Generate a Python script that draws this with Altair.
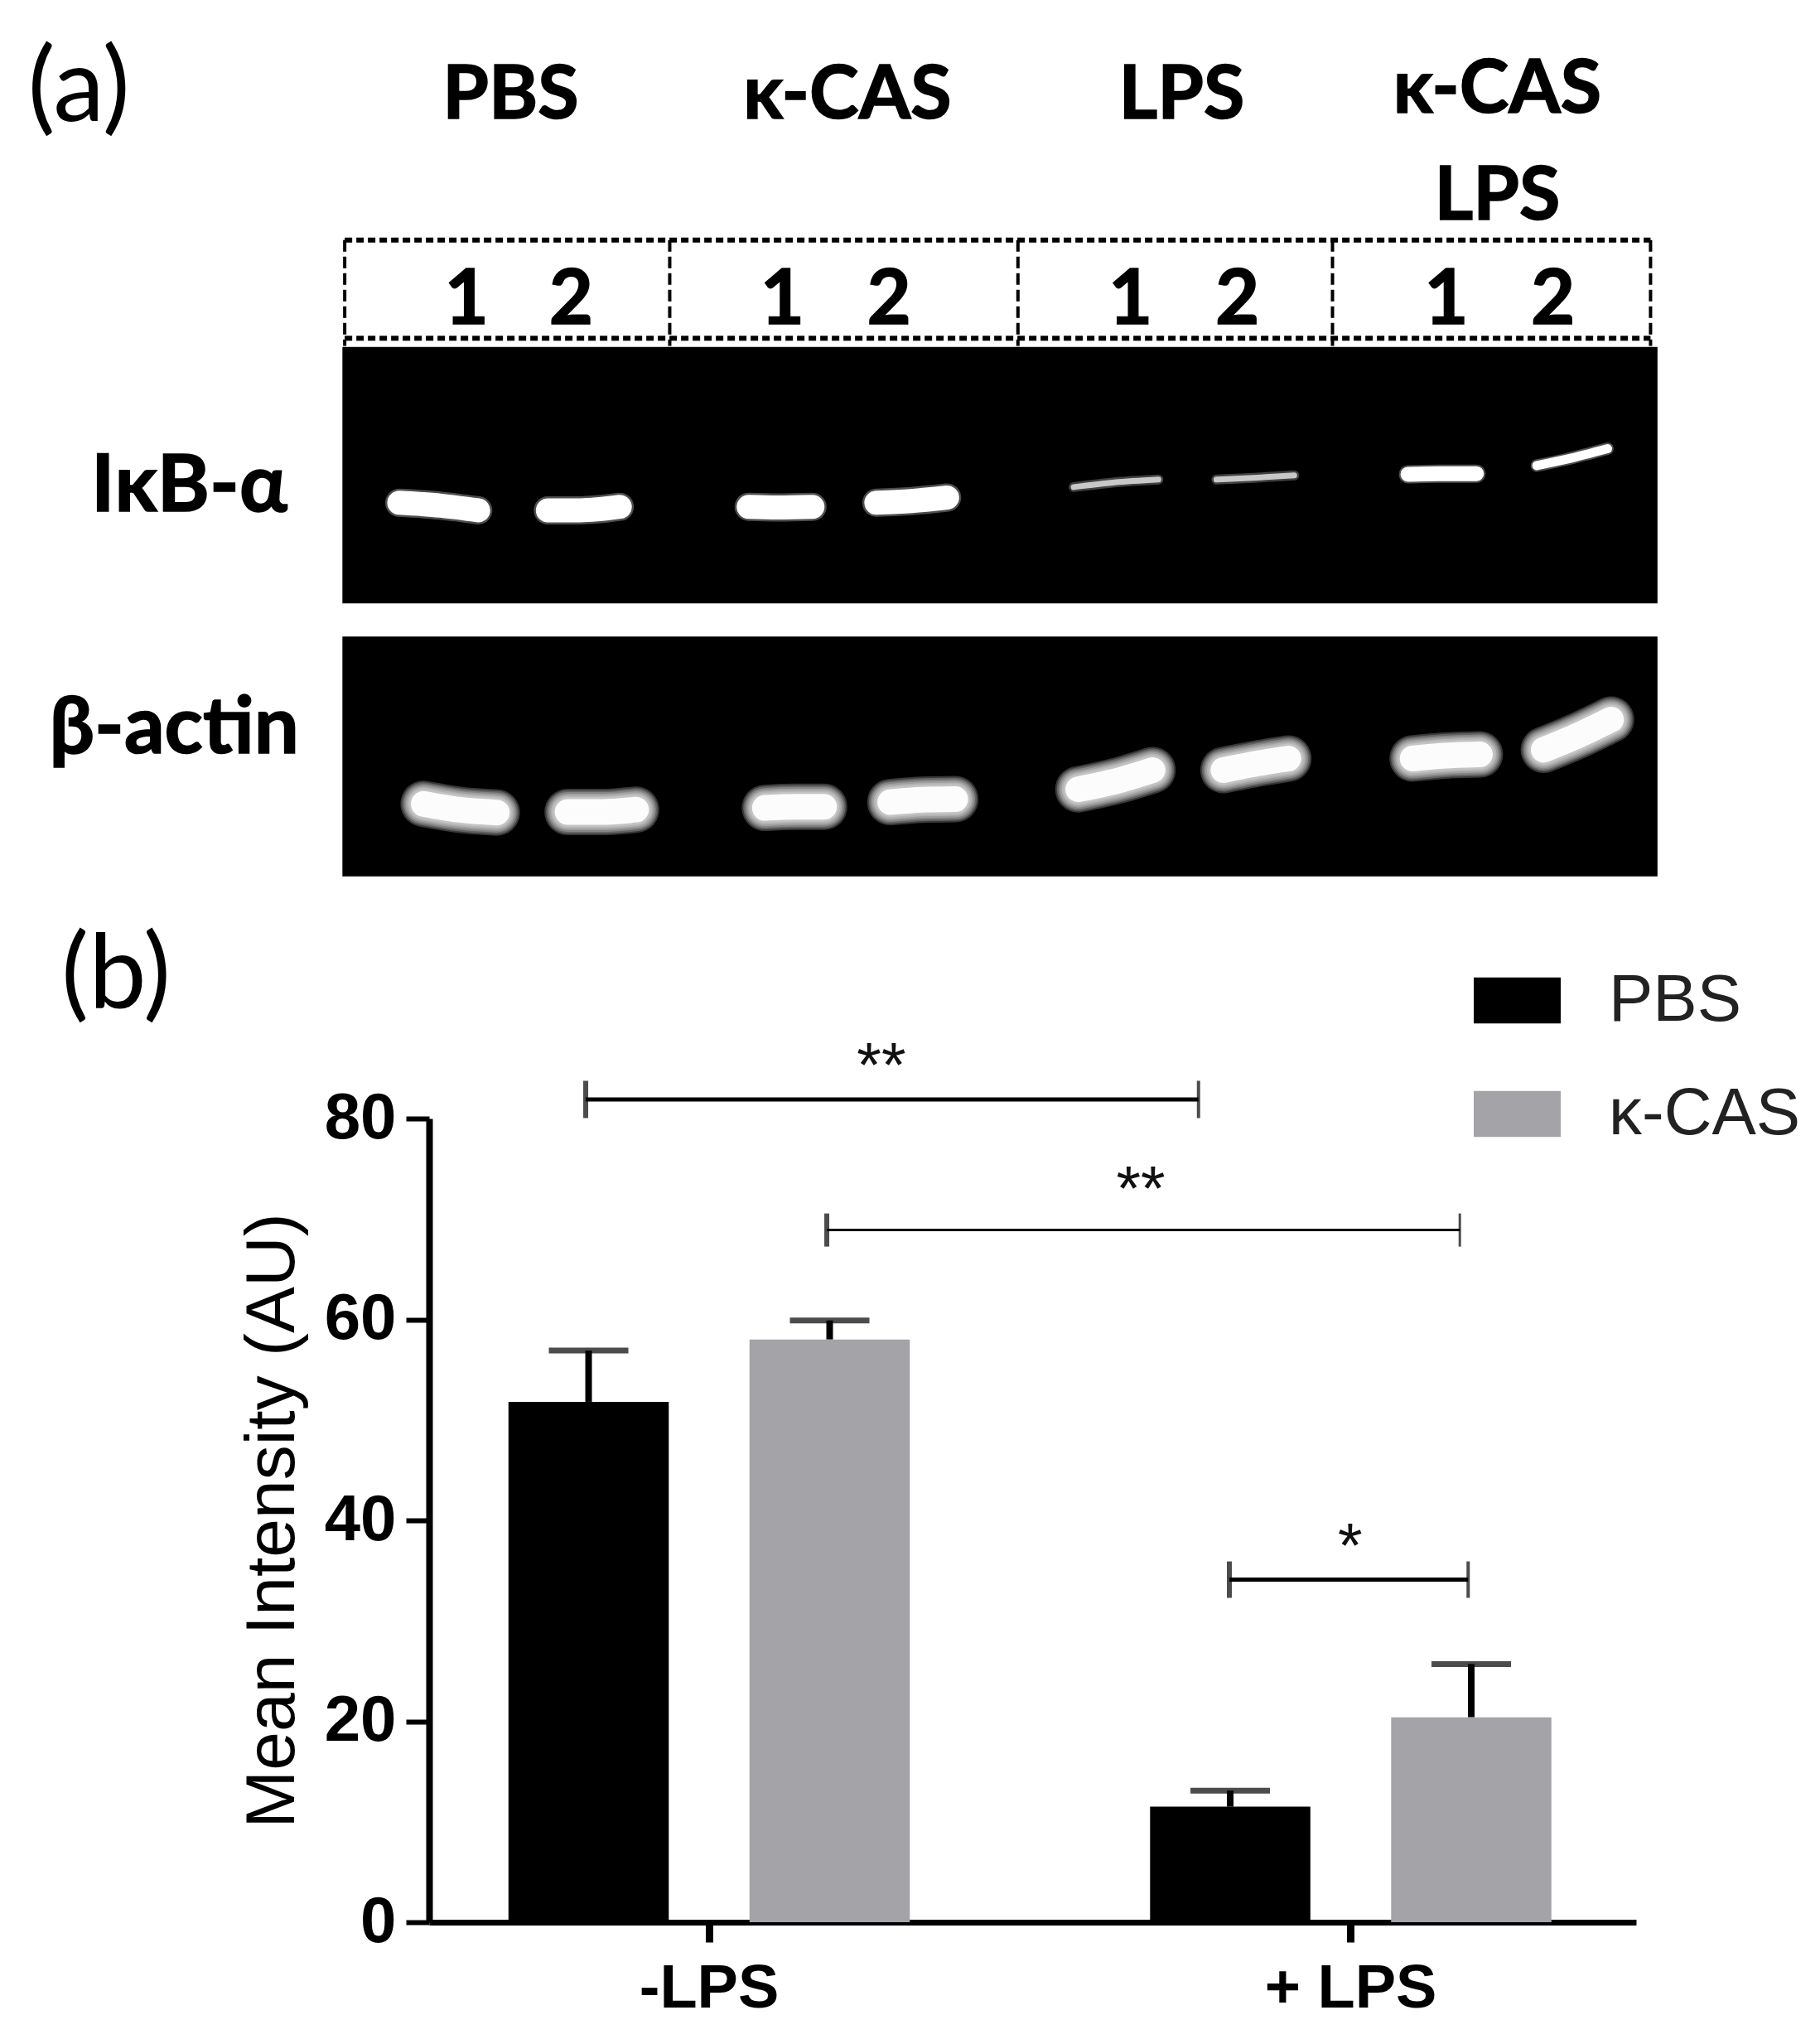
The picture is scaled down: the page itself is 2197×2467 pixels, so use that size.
import altair as alt
import pandas as pd

# ---- panel (b) values
GROUPS = ["-LPS", "+ LPS"]
TREATMENTS = ["PBS", "κ-CAS"]
MEANS_PBS = [51.8, 11.5]
MEANS_CAS = [58.0, 20.4]
TOPS_PBS = [56.9, 13.1]
TOPS_CAS = [59.9, 25.7]

# significance brackets: x in group units (-LPS tick = 0, +LPS tick = 1), y in AU
BR1 = [-0.1935, 0.761, 81.9]
BR2 = [0.182, 1.168, 68.9]
BR3 = [0.809, 1.181, 34.1]
STARS_TEXT = ["**", "**", "*"]
STARS_X = [0.267, 0.671, 0.997]
STARS_Y = [83.2, 70.9, 35.4]

# ---- panel (a) gel read-offs, in gel units
BLOT1 = [295, 1428, 597, 1038]
BLOT2 = [295, 1428, 1095, 1508]

IKB_STRONG = [
    [344, 865, 380, 870, 412, 878],
    [472, 878, 500, 878, 534, 872],
    [645, 872, 670, 873, 700, 872],
    [755, 865, 785, 862, 816, 856],
]
IKB_MID = [[1213, 816, 1240, 815, 1272, 815]]
IKB_THIN = [[1324, 801, 1350, 790, 1385, 772]]
IKB_FAINT = [
    [925, 838, 960, 830, 998, 825],
    [1048, 825, 1080, 822, 1115, 818],
]
ACTIN = [
    [365, 1383, 395, 1393, 428, 1398],
    [489, 1397, 518, 1397, 548, 1393],
    [659, 1390, 685, 1388, 710, 1388],
    [767, 1380, 795, 1376, 823, 1375],
    [929, 1358, 965, 1342, 993, 1325],
    [1054, 1325, 1085, 1313, 1110, 1305],
    [1217, 1305, 1245, 1300, 1275, 1298],
    [1330, 1290, 1360, 1265, 1388, 1238],
]

BOX_X = [297, 577, 877, 1148, 1422]
BOX_TOP = 413
BOX_BOTTOM = 582
BOX_END = 595

HEAD_TEXT = ["PBS", "κ-CAS", "LPS", "κ-CAS", "LPS"]
HEAD_X = [440, 730, 1018, 1290, 1290]
HEAD_Y = [166, 166, 166, 156, 339]
LANE_TEXT = ["1", "2", "1", "2", "1", "2", "1", "2"]
LANE_X = [402, 492, 674, 766, 974, 1066, 1246, 1338]
LANE_Y = [518] * 8
PROBE_TEXT = ["IκB-α", "β-actin"]
PROBE_X = [163, 150]
PROBE_Y = [838, 1255]
PANEL_TEXT = ["(a)", "(b)"]
PANEL_X = [68, 100]
PANEL_Y = [155, 1681]

# ---- geometry of the plot area in the page
LEFT, RIGHT, TOP80, BOTTOM0 = 518, 1975, 1350, 2320
KX, KY = 0.7137, 1.4255
GEL_X = alt.Scale(domain=[LEFT * KX, RIGHT * KX], nice=False, zero=False)
GEL_Y = alt.Scale(domain=[BOTTOM0 * KY, TOP80 * KY], nice=False, zero=False)
AU = alt.Scale(domain=[0, 80], nice=False, zero=False)
UNITS = alt.Scale(domain=[(LEFT - 857) / 775, (RIGHT - 857) / 775], nice=False, zero=False)
GROUP_SCALE = alt.Scale(domain=GROUPS, paddingInner=0.2486, paddingOuter=0.0649, align=0.468)
OFFSET_SCALE = alt.Scale(domain=TREATMENTS, paddingInner=0.335, paddingOuter=0.1675)
COLORS = alt.Scale(domain=TREATMENTS, range=["#000000", "#a4a3a7"])
NOAX = None

layers = []


def gx(f="x"):
    return alt.X(f"{f}:Q", scale=GEL_X, axis=NOAX)


def gy(f="y"):
    return alt.Y(f"{f}:Q", scale=GEL_Y, axis=NOAX)


def gel_rect(box):
    df = pd.DataFrame([dict(x=box[0], x2=box[1], y=box[2], y2=box[3])])
    return alt.Chart(df).mark_rect(color="#000000").encode(
        x=gx(), x2="x2:Q", y=gy(), y2="y2:Q")


def gel_bands(bands, width, color="#ffffff", opacity=1.0):
    rows = []
    for i, b in enumerate(bands):
        for j in range(0, 6, 2):
            rows.append(dict(b=i, o=j, x=b[j], y=b[j + 1]))
    return alt.Chart(pd.DataFrame(rows)).mark_line(
        strokeWidth=width, strokeCap="round", color=color, opacity=opacity,
        interpolate="monotone").encode(
        x=gx(), y=gy(), detail="b:N", order="o:Q")


def gel_text(texts, xs, ys, size, weight="bold", font="Lato", heavy=1.6):
    df = pd.DataFrame(dict(t=texts, x=xs, y=ys))
    return alt.Chart(df).mark_text(
        fontSize=size, fontWeight=weight, font=font, color="#000000",
        stroke="#000000", strokeWidth=heavy,
        align="center", baseline="middle").encode(x=gx(), y=gy(), text="t:N")


def gel_dash(rows, width, dash):
    return alt.Chart(pd.DataFrame(rows)).mark_rule(
        color="#000000", strokeWidth=width, strokeDash=dash).encode(
        x=gx(), x2="x2:Q", y=gy(), y2="y2:Q")


layers += [gel_rect(BLOT1), gel_rect(BLOT2)]
layers += [
    gel_bands(IKB_STRONG, 34, "#ffffff", 0.3),
    gel_bands(IKB_STRONG, 29),
    gel_bands(IKB_MID, 22, "#ffffff", 0.3),
    gel_bands(IKB_MID, 18),
    gel_bands(IKB_THIN, 15, "#ffffff", 0.3),
    gel_bands(IKB_THIN, 11),
    gel_bands(IKB_FAINT, 12, "#ffffff", 0.25),
    gel_bands(IKB_FAINT, 7, "#c8c8c8"),
]
for w in (56, 52, 48, 44, 40, 36):
    layers.append(gel_bands(ACTIN, w, "#ffffff", 0.22))
layers.append(gel_bands(ACTIN, 31, "#ffffff", 0.95))
layers += [
    gel_dash([dict(x=BOX_X[0], x2=BOX_X[-1], y=v, y2=v) for v in (BOX_TOP, BOX_BOTTOM)], 6, [9, 5]),
    gel_dash([dict(x=v, x2=v, y=BOX_TOP, y2=BOX_END) for v in BOX_X], 4, [14, 6]),
]
layers += [
    gel_text(HEAD_TEXT, HEAD_X, HEAD_Y, 90),
    gel_text(LANE_TEXT, LANE_X, LANE_Y, 92),
    gel_text(PROBE_TEXT, PROBE_X, PROBE_Y, 96),
    gel_text(PANEL_TEXT, PANEL_X, PANEL_Y, 124, "normal", heavy=0),
]

# ---- bars
bars_df = pd.DataFrame(
    dict(
        group=GROUPS * 2,
        treatment=[TREATMENTS[0]] * 2 + [TREATMENTS[1]] * 2,
        mean=MEANS_PBS + MEANS_CAS,
        top=TOPS_PBS + TOPS_CAS,
    )
)

x_enc = alt.X("group:N", scale=GROUP_SCALE, axis=NOAX)
off_enc = alt.XOffset("treatment:N", scale=OFFSET_SCALE)

bars = alt.Chart(bars_df).mark_bar(cornerRadius=0, strokeWidth=0).encode(
    x=alt.X(
        "group:N", scale=GROUP_SCALE, title=None,
        axis=alt.Axis(
            labelAngle=0, labelFont="Liberation Sans", labelFontWeight="bold", labelFontSize=74,
            labelColor="#000000", labelPadding=20, tickSize=24, tickWidth=9, tickColor="#000000",
            domainColor="#000000", domainWidth=7, grid=False, labelLimit=0,
        ),
    ),
    xOffset=off_enc,
    y=alt.Y(
        "mean:Q", scale=AU, title="Mean Intensity (AU)",
        axis=alt.Axis(
            values=[0, 20, 40, 60, 80], labelFont="Liberation Sans", labelFontWeight="bold",
            labelFontSize=78, labelColor="#000000", labelPadding=12, tickSize=28, tickWidth=6,
            tickColor="#000000", domainColor="#000000", domainWidth=8, grid=False,
            titleFont="Liberation Sans", titleFontSize=84, titleFontWeight="normal",
            titleColor="#000000", titlePadding=19,
        ),
    ),
    color=alt.Color(
        "treatment:N", scale=COLORS,
        legend=alt.Legend(
            title=None, orient="none", legendX=1261, legendY=-195,
            symbolType="M-1,-0.53H1V0.53H-1Z", symbolSize=11025, symbolStrokeWidth=0,
            labelFont="Liberation Sans", labelFontSize=80, labelColor="#222222",
            labelOffset=58, rowPadding=44, labelLimit=0,
        ),
    ),
)
stems = alt.Chart(bars_df).mark_rule(strokeWidth=8, color="#000000").encode(
    x=x_enc, xOffset=off_enc, y=alt.Y("mean:Q", scale=AU, axis=NOAX), y2="top:Q")
caps = alt.Chart(bars_df).mark_tick(
    orient="horizontal", size=96, thickness=7, color="#000000").encode(
    x=x_enc, xOffset=off_enc, y=alt.Y("top:Q", scale=AU, axis=NOAX))
layers += [stems, bars, caps]


# ---- brackets
def bracket(br, line_w, left_w, right_w, h):
    span = pd.DataFrame([dict(a=br[0], b=br[1], y=br[2])])
    ends = pd.DataFrame(dict(x=br[:2], y=[br[2]] * 2))
    ux = alt.X("a:Q", scale=UNITS, axis=NOAX)
    vy = alt.Y("y:Q", scale=AU, axis=NOAX)
    out = [alt.Chart(span).mark_rule(strokeWidth=line_w, color="#000000").encode(x=ux, x2="b:Q", y=vy)]
    for row, w in zip(ends.to_dict("records"), (left_w, right_w)):
        out.append(
            alt.Chart(pd.DataFrame([row])).mark_tick(
                orient="vertical", size=h, thickness=w, color="#000000").encode(
                x=alt.X("x:Q", scale=UNITS, axis=NOAX), y=vy)
        )
    return out


layers += bracket(BR1, 5, 6, 4, 45)
layers += bracket(BR2, 3, 6, 3, 40)
layers += bracket(BR3, 5, 6, 4, 44)

stars = alt.Chart(pd.DataFrame(dict(t=STARS_TEXT, x=STARS_X, y=STARS_Y))).mark_text(
    fontSize=76, font="Liberation Sans", color="#111111", align="center", baseline="alphabetic",
).encode(
    x=alt.X("x:Q", scale=UNITS, axis=NOAX),
    y=alt.Y("y:Q", scale=AU, axis=NOAX),
    text="t:N",
)
layers.append(stars)

chart = (
    alt.layer(*layers)
    .resolve_scale(x="independent", y="independent", color="independent", xOffset="independent")
    .resolve_axis(x="independent", y="independent")
    .properties(
        width=RIGHT - LEFT,
        height=BOTTOM0 - TOP80,
        background="#ffffff",
        autosize=alt.AutoSizeParams(type="none"),
        padding={"left": LEFT - 8, "top": TOP80 - 8, "right": 2197 - RIGHT - 8, "bottom": 2467 - BOTTOM0 - 8},
    )
    .configure_view(strokeWidth=0, strokeOpacity=0)
)

chart.save("out.html", embed_options={"renderer": "svg", "actions": False})
